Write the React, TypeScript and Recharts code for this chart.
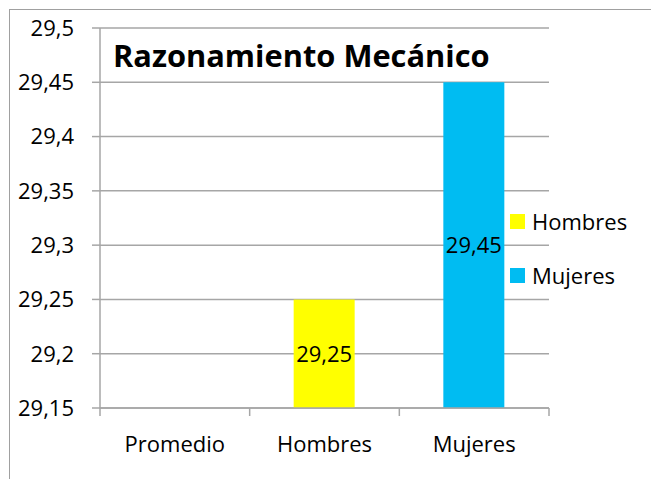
import { Bar, BarChart, CartesianGrid, LabelList, Legend, XAxis, YAxis } from "recharts";

const categories = ["Promedio", "Hombres", "Mujeres"];
const hombres = [null, 29.25, null];
const mujeres = [null, null, 29.45];
const yTicks = [29.15, 29.2, 29.25, 29.3, 29.35, 29.4, 29.45, 29.5];

const FONT = "'Open Sans', sans-serif";
const GRID = "#a6a6a6";
const LABEL_GAP = 28;

const data = categories.map((c, i) => ({
  name: c,
  Hombres: hombres[i],
  Mujeres: mujeres[i],
}));

const comma = (v: number | null | undefined) =>
  v == null ? "" : String(v).replace(".", ",");

// Excel-style category tick: marks sit between categories, label in the middle
function CategoryTick({ x, y, payload, index, visibleTicksCount }: any) {
  const half = payload?.offset ?? 0;
  const axisY = y - LABEL_GAP;
  const last = index === (visibleTicksCount ?? categories.length) - 1;
  return (
    <g>
      <line x1={x - half} x2={x - half} y1={axisY} y2={axisY + 8} stroke={GRID} strokeWidth={1.5} />
      {last && (
        <line x1={x + half} x2={x + half} y1={axisY} y2={axisY + 8} stroke={GRID} strokeWidth={1.5} />
      )}
      <text x={x} y={y} dy="0.71em" textAnchor="middle" fill="#000" fontSize={22} fontFamily={FONT}>
        {payload.value}
      </text>
    </g>
  );
}

function LegendBox({ payload }: any) {
  return (
    <div style={{ fontFamily: FONT, fontSize: 22, color: "#000" }}>
      {(payload || []).map((p: any) => (
        <div key={p.value} style={{ display: "flex", alignItems: "center", height: 54 }}>
          <span
            style={{ width: 15, height: 15, background: p.color, marginRight: 7, display: "inline-block" }}
          />
          {p.value}
        </div>
      ))}
    </div>
  );
}

export default function App() {
  return (
    <div style={{ position: "relative", width: 651, height: 471, overflow: "hidden" }}>
      <div
        style={{
          position: "absolute",
          left: 1,
          top: 1,
          width: 700,
          height: 500,
          borderLeft: "1px solid #a0a0a0",
          borderTop: "1px solid #a0a0a0",
        }}
      />
      <BarChart
        width={651}
        height={471}
        data={data}
        margin={{ top: 20, right: 110, bottom: 11, left: 0 }}
        barGap={-61}
      >
        <CartesianGrid vertical={false} stroke={GRID} strokeWidth={1.5} />
        <XAxis
          dataKey="name"
          height={60}
          tickLine={false}
          tickSize={0}
          tickMargin={LABEL_GAP}
          axisLine={{ stroke: GRID, strokeWidth: 1.5 }}
          tick={<CategoryTick />}
        />
        <YAxis
          domain={[29.15, 29.5]}
          ticks={yTicks}
          allowDataOverflow
          width={92}
          tickSize={8}
          tickMargin={18}
          tickFormatter={comma}
          axisLine={{ stroke: GRID, strokeWidth: 1.5 }}
          tickLine={{ stroke: GRID, strokeWidth: 1.5 }}
          tick={{ fill: "#000", fontSize: 22, fontFamily: FONT }}
        />
        <Legend
          layout="vertical"
          align="center"
          verticalAlign="middle"
          wrapperStyle={{ left: 502, top: 186, width: 140 }}
          content={LegendBox}
        />
        <Bar dataKey="Hombres" fill="#ffff00" barSize={61} isAnimationActive={false}>
          <LabelList
            dataKey="Hombres"
            position="center"
            formatter={comma}
            style={{ fill: "#000", fontSize: 22, fontFamily: FONT }}
          />
        </Bar>
        <Bar dataKey="Mujeres" fill="#00bcf2" barSize={61} isAnimationActive={false}>
          <LabelList
            dataKey="Mujeres"
            position="center"
            formatter={comma}
            style={{ fill: "#000", fontSize: 22, fontFamily: FONT }}
          />
        </Bar>
      </BarChart>
      <svg
        width={651}
        height={471}
        style={{ position: "absolute", left: 0, top: 0, pointerEvents: "none" }}
      >
        <text x={105} y={59} fontFamily={FONT} fontSize={30.8} fontWeight="bold" fill="#000">
          Razonamiento Mecánico
        </text>
      </svg>
    </div>
  );
}
